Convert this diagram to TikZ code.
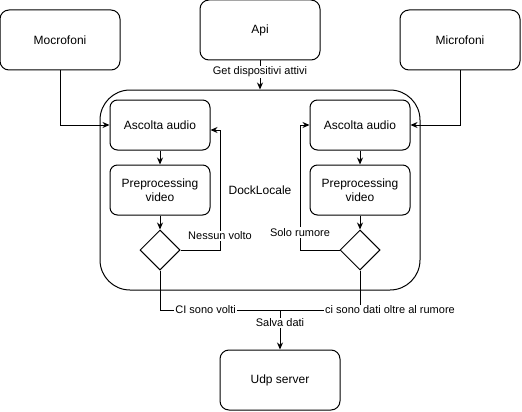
\documentclass[tikz,border=0pt]{standalone}
\usepackage{fontspec}
\setmainfont{Liberation Sans}
\usetikzlibrary{arrows.meta}
\usetikzlibrary{shapes.geometric}
\usetikzlibrary{calc}

\begin{document}
\begin{tikzpicture}[x=1pt,y=-1pt,line width=1pt,>={Stealth[length=7pt,width=6pt]},
	box/.style={draw, rounded corners=9pt, minimum width=120pt, minimum height=60pt, align=center, font=\fontsize{12}{14}\selectfont},
	inbox/.style={draw, rounded corners=7.5pt, minimum width=100pt, minimum height=50pt, align=center, font=\fontsize{12}{14}\selectfont},
	dec/.style={draw, diamond, minimum width=40pt, minimum height=40pt, inner sep=0pt},
	lbl/.style={fill=white, inner sep=1pt, font=\fontsize{11}{13}\selectfont}]
		\useasboundingbox (0,0) rectangle (522,412);

		%coordinates
		\coordinate (loopL) at (220,130);
		\coordinate (loopR) at (300,125);
		\coordinate (join)  at (280,310);

		%nodes
		\node[draw, rounded corners=30pt, minimum width=320pt, minimum height=200pt, font=\fontsize{12}{14}\selectfont] (dock) at (260,190) {DockLocale};

		\node[box] (mic1) at (60,40)  {Mocrofoni};
		\node[box] (api)  at (260,30) {Api};
		\node[box] (mic2) at (460,40) {Microfoni};

		\node[inbox] (asc1) at (160,125) {Ascolta audio};
		\node[inbox] (pre1) at (160,190) {Preprocessing\\video};
		\node[dec]   (dec1) at (160,250) {};

		\node[inbox] (asc2) at (360,125) {Ascolta audio};
		\node[inbox] (pre2) at (360,190) {Preprocessing\\video};
		\node[dec]   (dec2) at (360,250) {};

		\node[box] (udp) at (280,380) {Udp server};

		%edges
		\draw[->] (mic1.south) |- (asc1.west);
		\draw[->] (mic2.south) |- (asc2.east);
		\draw[->] (api.south) -- node[lbl, pos=0.4]{Get dispositivi attivi} (dock.north);

		\draw[->] (asc1) -- (pre1);
		\draw[->] (pre1) -- (dec1);
		\draw[->] (asc2) -- (pre2);
		\draw[->] (pre2) -- (dec2);

		\draw[->] (dec1.east) -| node[lbl, pos=0.56]{Nessun volto} (loopL) -- (asc1.east |- loopL);
		\draw[->] (dec2.west) -| node[lbl, pos=0.57]{Solo rumore} (loopR) -- (asc2.west);

		\draw (dec1.south) |- node[lbl, pos=0.69]{CI sono volti} (join);
		\draw (dec2.south) |- (join);
		\node[lbl] (rumlbl) at (390,310) {ci sono dati oltre al rumore};
		\draw[->] (join) -- node[lbl, pos=0.33]{Salva dati} (udp.north);
\end{tikzpicture}
\end{document}
